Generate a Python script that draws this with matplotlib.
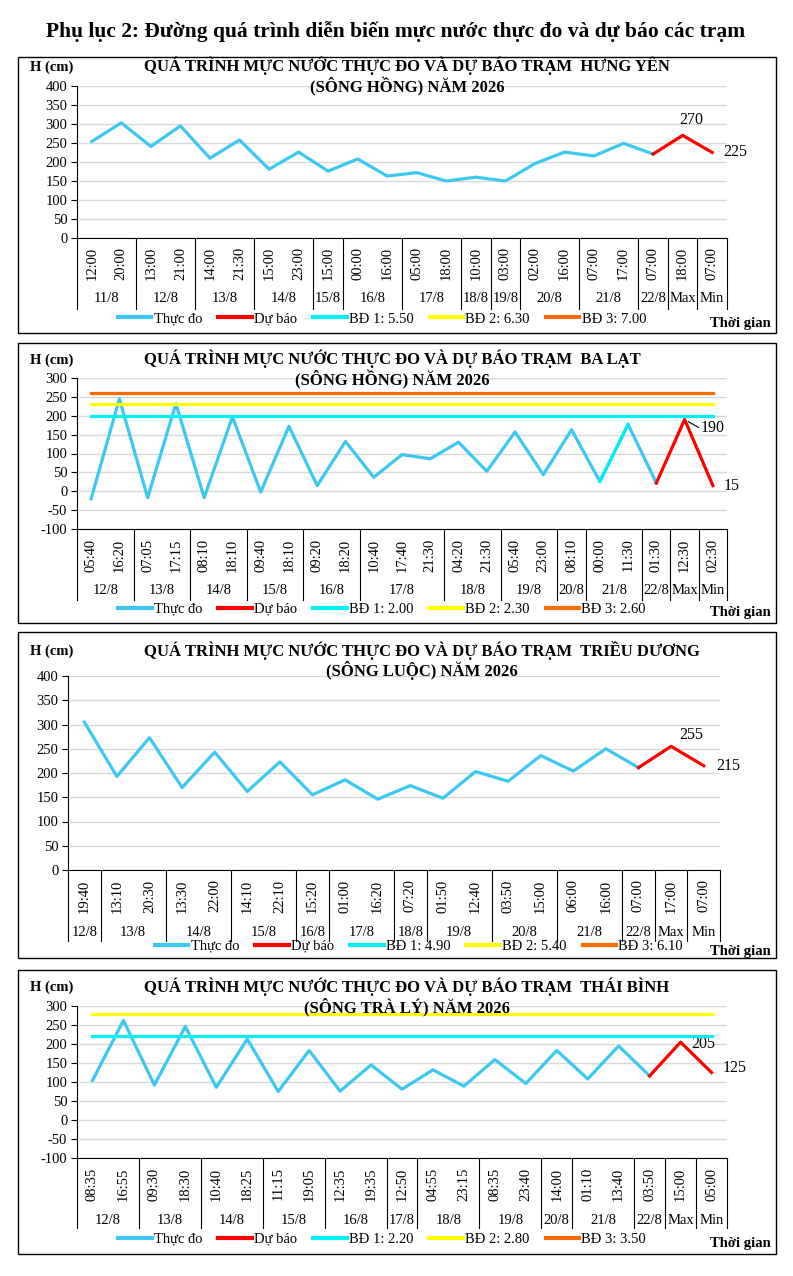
import numpy as np
import matplotlib.pyplot as plt
from matplotlib.lines import Line2D
from matplotlib.patches import Rectangle
from matplotlib.transforms import blended_transform_factory

plt.rcParams['font.family'] = ['Liberation Serif', 'DejaVu Serif']
plt.rcParams['axes.unicode_minus'] = False

# ---- data -------------------------------------------------------------
hy_times = ['12:00', '20:00', '13:00', '21:00', '14:00', '21:30', '15:00', '23:00', '15:00', '00:00', '16:00',
            '05:00', '18:00', '10:00', '03:00', '02:00', '16:00', '07:00', '17:00', '07:00', '18:00', '07:00']
hy_days = ['11/8'] * 2 + ['12/8'] * 2 + ['13/8'] * 2 + ['14/8'] * 2 + ['15/8'] + ['16/8'] * 2 + ['17/8'] * 2 + \
          ['18/8', '19/8'] + ['20/8'] * 2 + ['21/8'] * 2 + ['22/8', 'Max', 'Min']
hy_obs = [254, 303, 241, 295, 210, 258, 181, 226, 176, 208, 163, 172, 150, 160, 150, 196, 226, 216, 249, 221]
hy_fc = [270, 225]
hy_bd = [550, 630, 700]

bl_times = ['05:40', '16:20', '07:05', '17:15', '08:10', '18:10', '09:40', '18:10', '09:20', '18:20', '10:40', '17:40',
            '21:30', '04:20', '21:30', '05:40', '23:00', '08:10', '00:00', '11:30', '01:30', '12:30', '02:30']
bl_days = ['12/8'] * 2 + ['13/8'] * 2 + ['14/8'] * 2 + ['15/8'] * 2 + ['16/8'] * 2 + ['17/8'] * 3 + ['18/8'] * 2 + \
          ['19/8'] * 2 + ['20/8'] + ['21/8'] * 2 + ['22/8', 'Max', 'Min']
bl_obs = [-20, 245, -17, 232, -17, 197, -2, 172, 15, 132, 37, 97, 86, 130, 53, 157, 44, 163, 26, 177, 22]
bl_fc = [190, 15]
bl_bd = [200, 230, 260]

td_times = ['19:40', '13:10', '20:30', '13:30', '22:00', '14:10', '22:10', '15:20', '01:00', '16:20', '07:20',
            '01:50', '12:40', '03:50', '15:00', '06:00', '16:00', '07:00', '17:00', '07:00']
td_days = ['12/8'] + ['13/8'] * 2 + ['14/8'] * 2 + ['15/8'] * 2 + ['16/8'] + ['17/8'] * 2 + ['18/8'] + \
          ['19/8'] * 2 + ['20/8'] * 2 + ['21/8'] * 2 + ['22/8', 'Max', 'Min']
td_obs = [305, 193, 273, 170, 243, 162, 223, 155, 186, 146, 174, 148, 203, 183, 236, 204, 250, 211]
td_fc = [255, 215]
td_bd = [490, 540, 610]

tb_times = ['08:35', '16:55', '09:30', '18:30', '10:40', '18:25', '11:15', '19:05', '12:35', '19:35', '12:50',
            '04:55', '23:15', '08:35', '23:40', '14:00', '01:10', '13:40', '03:50', '15:00', '05:00']
tb_days = ['12/8'] * 2 + ['13/8'] * 2 + ['14/8'] * 2 + ['15/8'] * 2 + ['16/8'] * 2 + ['17/8'] + ['18/8'] * 2 + \
          ['19/8'] * 2 + ['20/8'] + ['21/8'] * 2 + ['22/8', 'Max', 'Min']
tb_obs = [104, 262, 92, 246, 86, 213, 75, 183, 76, 145, 81, 132, 89, 159, 96, 183, 108, 195, 116]
tb_fc = [205, 125]
tb_bd = [220, 280, 350]

# ---- styling ------------------------------------------------------------
W, H = 793, 1276
C_OBS = '#3CC8F0'
C_FC = '#FF0000'
C_BD = ['#00F0F4', '#FFFF00', '#FF6A00']
LW = 2.3


def fx(x):
    return x / W


def fy(y):
    return 1 - y / H


fig = plt.figure(figsize=(W / 100, H / 100), dpi=100)

fig.text(fx(396), fy(32), 'Phụ lục 2: Đường quá trình diễn biến mực nước thực đo và dự báo các trạm',
         ha='center', va='center', fontsize=15.5, fontweight='bold')


def panel(spec, times, days, obs, fc, bd, station, river, odd_seg=None):
    n = len(times)
    bx0, by0, bx1, by1 = spec['box']
    fig.add_artist(Rectangle((fx(bx0), fy(by1)), (bx1 - bx0) / W, (by1 - by0) / H,
                             transform=fig.transFigure, fill=False, edgecolor='black', lw=1.0))
    l, t, r, b = spec['plot']
    ax = fig.add_axes([fx(l), fy(b), (r - l) / W, (b - t) / H])
    ymin, ymax = spec['ylim']
    x = np.arange(n)
    k = len(obs)

    ax.plot(x[:k], obs, color=C_OBS, lw=LW, zorder=3)
    if odd_seg is not None:
        ax.plot(x[odd_seg - 1:odd_seg + 1], obs[odd_seg - 1:odd_seg + 1], color=C_BD[0], lw=LW, zorder=3.5)
    ax.plot(x[k - 1:], [obs[-1]] + fc, color=C_FC, lw=LW, zorder=4)
    for v, c in zip(bd, C_BD):
        ax.plot([0, n - 1], [v, v], color=c, lw=LW, zorder=5)

    ax.set_xlim(-0.5, n - 0.5)
    ax.set_ylim(ymin, ymax)
    ax.set_yticks(np.arange(ymin, ymax + 1, 50))
    ax.set_xticks([])
    ax.yaxis.grid(True, color='#D9D9D9', lw=1.0)
    ax.set_axisbelow(True)
    for s in ['top', 'right']:
        ax.spines[s].set_visible(False)
    for s in ['left', 'bottom']:
        ax.spines[s].set_color('black')
        ax.spines[s].set_linewidth(0.8)
    ax.tick_params(axis='y', labelsize=10.5, length=4, width=0.8, pad=3)

    # value labels for forecast max / min
    (mdx, mdy), (ndx, ndy) = spec['lab']
    ax.annotate(str(fc[0]), xy=(n - 2, fc[0]), xytext=(mdx, mdy), textcoords='offset pixels',
                ha=spec['lab_ha'], va='center', fontsize=11.5)
    ax.annotate(str(fc[1]), xy=(n - 1, fc[1]), xytext=(ndx, ndy), textcoords='offset pixels',
                ha='left', va='center', fontsize=11.5)
    if spec.get('leader'):
        ax.annotate('', xy=(n - 2, fc[0]), xytext=(mdx - 2, mdy), textcoords='offset pixels',
                    arrowprops=dict(arrowstyle='-', color='black', lw=0.8, shrinkA=0, shrinkB=3))

    # multi level category axis
    tr = blended_transform_factory(ax.transData, fig.transFigure)
    for i, tm in enumerate(times):
        ax.text(i, fy(spec['time_y']), tm, transform=tr, rotation=90, ha='center', va='center',
                fontsize=10.5, clip_on=False)
    starts = [0] + [i for i in range(1, n) if days[i] != days[i - 1]] + [n]
    for a, z in zip(starts[:-1], starts[1:]):
        ax.text((a + z - 1) / 2, fy(spec['date_y']), days[a], transform=tr, ha='center', va='center',
                fontsize=10.5, clip_on=False)
    for a in starts:
        ax.add_line(Line2D([a - 0.5, a - 0.5], [fy(b), fy(spec['sep_y'])], transform=tr,
                           color='black', lw=0.8, clip_on=False))

    # titles
    fig.text(fx(144), fy(spec['title_y']),
             'QUÁ TRÌNH MỰC NƯỚC THỰC ĐO VÀ DỰ BÁO TRẠM  ' + station + '\n(' + river + ') NĂM 2026',
             ha='left', va='center', multialignment='center', fontsize=12, fontweight='bold',
             linespacing=1.12)
    fig.text(fx(30), fy(spec['hcm_y']), 'H (cm)', ha='left', va='center', fontsize=10.5, fontweight='bold')
    fig.text(fx(771), fy(spec['tg_y']), 'Thời gian', ha='right', va='center', fontsize=10.5,
             fontweight='bold')

    handles = [Line2D([], [], color=C_OBS, lw=3), Line2D([], [], color=C_FC, lw=3)] + \
              [Line2D([], [], color=c, lw=3) for c in C_BD]
    names = ['Thực đo', 'Dự báo'] + ['BĐ %d: %.2f' % (j + 1, v / 100) for j, v in enumerate(bd)]
    fig.legend(handles, names, loc='center', bbox_to_anchor=(fx(spec['leg_cx']), fy(spec['leg_y'])),
               ncol=5, frameon=False, fontsize=10.5, handlelength=2.3, handletextpad=0.15,
               columnspacing=1.1, borderpad=0, borderaxespad=0)
    return ax


panel(dict(box=(18, 57, 776, 333), plot=(77, 86, 727, 238), ylim=(0, 400), title_y=76.5, hcm_y=67,
           time_y=263, date_y=299, sep_y=309, leg_y=319, leg_cx=382, tg_y=323,
           lab=((9, 15), (11, 0)), lab_ha='center'),
      hy_times, hy_days, hy_obs, hy_fc, hy_bd, 'HƯNG YÊN', 'SÔNG HỒNG')

panel(dict(box=(18, 343, 776, 623), plot=(77, 378, 727, 529), ylim=(-100, 300), title_y=369.5, hcm_y=360,
           time_y=555, date_y=591, sep_y=600, leg_y=609, leg_cx=382, tg_y=613,
           lab=((16, -8), (11, 0)), lab_ha='left', leader=True),
      bl_times, bl_days, bl_obs, bl_fc, bl_bd, 'BA LẠT', 'SÔNG HỒNG', odd_seg=19)

panel(dict(box=(18, 632, 776, 958), plot=(68, 676, 720, 870), ylim=(0, 400), title_y=660.5, hcm_y=651,
           time_y=896, date_y=932, sep_y=941, leg_y=946, leg_cx=419, tg_y=951,
           lab=((20, 11), (13, 0)), lab_ha='center'),
      td_times, td_days, td_obs, td_fc, td_bd, 'TRIỀU DƯƠNG', 'SÔNG LUỘC')

panel(dict(box=(18, 970, 776, 1254), plot=(77, 1006, 727, 1158), ylim=(-100, 300), title_y=997, hcm_y=987,
           time_y=1184, date_y=1220, sep_y=1228, leg_y=1239, leg_cx=382, tg_y=1243,
           lab=((11, -2), (11, 4)), lab_ha='left'),
      tb_times, tb_days, tb_obs, tb_fc, tb_bd, 'THÁI BÌNH', 'SÔNG TRÀ LÝ')

fig.savefig('out.png', dpi=100)
